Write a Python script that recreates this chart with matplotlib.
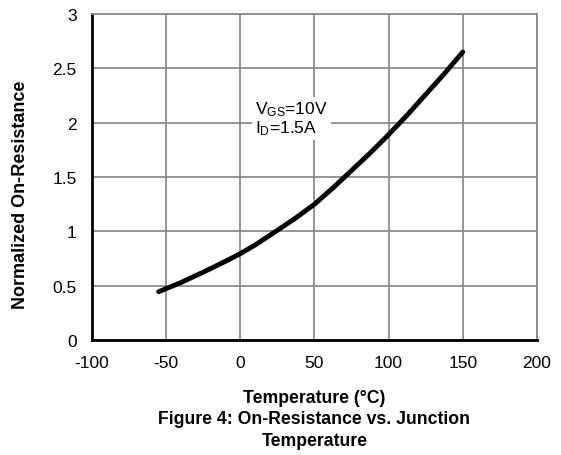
import matplotlib
matplotlib.use('Agg')
import matplotlib.pyplot as plt

# curve
temp = [-55, -40, -25, -10, 0, 10, 25, 37.5, 50, 62.5, 75, 87.5, 100, 112.5, 125, 137.5, 150]
rds_norm = [0.445, 0.53, 0.625, 0.725, 0.795, 0.875, 1.01, 1.125, 1.25, 1.40, 1.56, 1.72,
            1.89, 2.07, 2.26, 2.45, 2.65]

xticks = [-100, -50, 0, 50, 100, 150, 200]
xtick_labels = ['-100', '-50', '0', '50', '100', '150', '200']
yticks = [0, 0.5, 1, 1.5, 2, 2.5, 3]
ytick_labels = ['0', '0.5', '1', '1.5', '2', '2.5', '3']

plt.rcParams['font.family'] = ['Liberation Sans', 'DejaVu Sans']

fig = plt.figure(figsize=(5.61, 4.56), dpi=100)
ax = fig.add_axes([0.164, 0.252, 0.793, 0.715])

ax.set_xlim(-100, 200)
ax.set_ylim(0, 3)
ax.set_xticks(xticks)
ax.set_xticklabels(xtick_labels)
ax.set_yticks(yticks)
ax.set_yticklabels(ytick_labels)
ax.grid(True, color='#8c8c8c', linewidth=1.3)
ax.set_axisbelow(True)
ax.tick_params(length=0, labelsize=12.5, pad=11)

for side in ['top', 'right']:
    ax.spines[side].set_color('#8c8c8c')
    ax.spines[side].set_linewidth(1.3)
for side in ['left', 'bottom']:
    ax.spines[side].set_color('black')
    ax.spines[side].set_linewidth(2)

ax.plot(temp, rds_norm, color='black', linewidth=3.5, solid_capstyle='round',
        solid_joinstyle='round')

ax.text(10, 1.87, '$\\mathregular{V_{GS}}$=10V\n$\\mathregular{I_{D}}$=1.5A', fontsize=12.5,
        ha='left', va='bottom', linespacing=1.0,
        bbox=dict(facecolor='white', edgecolor='none', pad=2))

fig.text(0.036, 0.573, 'Normalized On-Resistance', fontsize=13, fontweight='bold',
         rotation=90, ha='center', va='center')
fig.text(0.5606, 0.125, 'Temperature (°C)', fontsize=12.7, fontweight='bold', ha='center', va='center')
fig.text(0.5606, 0.079, 'Figure 4: On-Resistance vs. Junction', fontsize=12.7, fontweight='bold',
         ha='center', va='center')
fig.text(0.5606, 0.031, 'Temperature', fontsize=12.7, fontweight='bold', ha='center', va='center')

fig.savefig('out.png', dpi=100)
